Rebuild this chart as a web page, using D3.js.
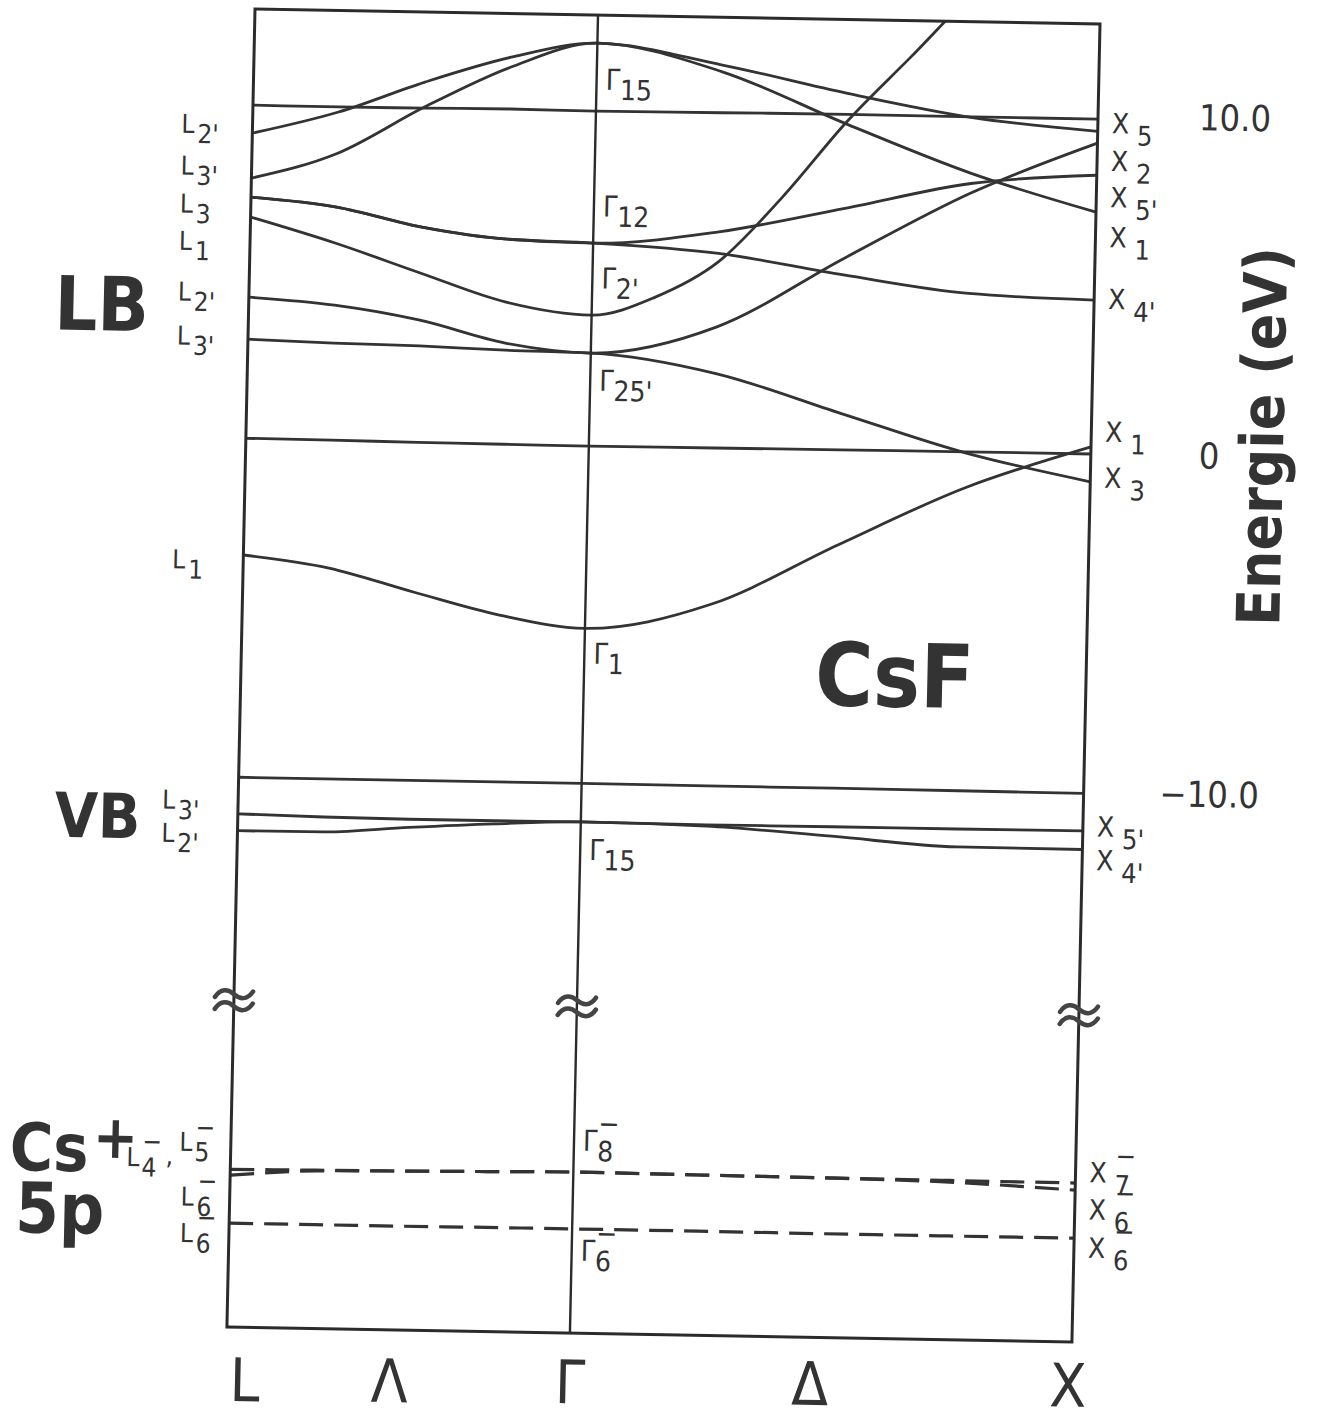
<!DOCTYPE html>
<html>
<head>
<meta charset="utf-8">
<script src="https://cdn.jsdelivr.net/npm/d3@7"></script>
<style>
  body { margin: 0; background: #fff; }
  text { font-family: "DejaVu Sans Condensed", "DejaVu Sans", sans-serif; fill: #333; }
</style>
</head>
<body>
<div id="chart"></div>
<script>

// k path: L = 0, Gamma = 1, X = 2
var kLG = [0, 0.25, 0.5, 0.75, 1];
var kGX = [1, 1.25, 1.5, 1.75, 2];
var kSteep = [1, 1.125, 1.25, 1.375, 1.5, 1.625, 1.75, 2];

// conduction bands (eV), L -> Gamma, paired by index with condGX
var condLG = [
  [9.86, 9.85, 9.86, 9.88, 9.86],
  [9.03, 9.70, 10.63, 11.41, 11.87],
  [7.70, 8.48, 9.89, 11.12, 11.87],
  [7.14, 6.89, 6.34, 6.03, 5.96],
  [7.14, 6.89, 6.34, 6.03, 5.96],
  [6.55, 5.82, 4.98, 4.17, 3.83],
  [4.18, 3.99, 3.59, 2.96, 2.71],
  [2.94, 2.87, 2.83, 2.75, 2.71],
  [0.01, 0.00, -0.02, -0.03, -0.04],
  [-3.44, -3.78, -4.45, -5.08, -5.43]
];
// conduction bands (eV), Gamma -> X
var condGX = [
  [9.86, 9.88, 9.90, 9.89, 9.89],
  [11.87, 11.29, 10.52, 9.87, 9.53],
  [11.87, 11.09, 9.61, 8.22, 7.14],
  [5.96, 6.36, 7.12, 7.92, 8.23],
  [5.96, 5.72, 5.15, 4.67, 4.54],
  [3.83, 4.39, 5.47, 7.42, 9.68, 11.63, 13.6, 16.5],
  [2.71, 3.55, 5.64, 7.64, 9.18],
  [2.71, 2.17, 1.06, -0.04, -0.83],
  [-0.04, -0.03, -0.02, -0.01, -0.01],
  [-5.43, -4.65, -2.83, -1.08, 0.20]
];

// valence bands (F 2p)
var valLG = [
  [-10.01, -10.01, -10.01, -10.01, -10.01],
  [-11.09, -11.14, -11.16, -11.16, -11.15],
  [-11.59, -11.58, -11.40, -11.25, -11.15]
];
var valGX = [
  [-10.01, -10.02, -10.02, -10.03, -10.04],
  [-11.15, -11.17, -11.16, -11.16, -11.15],
  [-11.15, -11.21, -11.44, -11.69, -11.70]
];

// Cs+ 5p core levels (dashed)
var coreLG = [
  [-21.60, -21.58, -21.56, -21.53, -21.50],
  [-21.77, -21.60, -21.56, -21.53, -21.50],
  [-23.19, -23.19, -23.19, -23.18, -23.18]
];
var coreGX = [
  [-21.50, -21.52, -21.54, -21.55, -21.56],
  [-21.50, -21.52, -21.54, -21.60, -21.77],
  [-23.18, -23.18, -23.19, -23.19, -23.19]
];

// labels at the symmetry points: [subscript, superscript, energy of label]
var lLabels = [["2'", "", 9.28], ["3'", "", 8.05], ["3", "", 6.92], ["1", "", 5.82],
               ["2'", "", 4.32], ["3'", "", 3.02], ["1", "", -3.59],
               ["3'", "", -10.70], ["2'", "", -11.68],
               ["6", "\u2212", -22.42], ["6", "\u2212", -23.50]];
var gLabels = [["15", "", 10.81], ["12", "", 7.06], ["2'", "", 4.93], ["25'", "", 1.91],
               ["1", "", -6.16], ["15", "", -11.96], ["8", "\u2212", -20.56], ["6", "\u2212", -23.81]];
var xLabels = [["5", "", 9.78], ["2", "", 8.66], ["5'", "", 7.59], ["1", "", 6.41], ["4'", "", 4.58],
               ["1", "", 0.66], ["3", "", -0.70], ["5'", "", -11.01], ["4'", "", -12.01],
               ["7", "\u2212", -21.23], ["6", "\u2212", -22.33], ["6", "\u2212", -23.46]];

var kNames = ["L", "\u039b", "\u0393", "\u0394", "X"];
var kTicks = [0, 0.5, 1, 1.5, 2];
var eTicks = [10, 0, -10];
var eTickText = ["10.0", "0", "\u221210.0"];
var breakE = -16.6;

var W = 845, H = 1318;

var svg = d3.select("#chart").append("svg")
  .attr("width", 1318)
  .attr("height", 1422);

// the scanned page is slightly skewed
var g = svg.append("g")
  .attr("transform", "matrix(1,0.0178,-0.0213,1,255,9)");

var x = d3.scaleLinear().domain([0, 1, 2]).range([0, 343, W]);
var y = d3.scaleLinear().domain([12.70, -26.26]).range([0, H]);

g.append("clipPath").attr("id", "frame")
  .append("rect").attr("width", W).attr("height", H);

var line = d3.line()
  .x(function(d) { return x(d[0]); })
  .y(function(d) { return y(d[1]); })
  .curve(d3.curveMonotoneX);

function band(eLG, eGX) {
  var pts = kLG.map(function(k, i) { return [k, eLG[i]]; });
  var k2 = eGX.length === kSteep.length ? kSteep : kGX;
  k2.forEach(function(k, i) { if (i > 0) pts.push([k, eGX[i]]); });
  return pts;
}

var bands = g.append("g").attr("clip-path", "url(#frame)");

bands.selectAll(".cb")
  .data(condLG.map(function(d, i) { return band(d, condGX[i]); }))
  .enter().append("path")
  .attr("class", "cb")
  .attr("d", line)
  .style("fill", "none").style("stroke", "#333").style("stroke-width", 2.8);

bands.selectAll(".vb")
  .data(valLG.map(function(d, i) { return band(d, valGX[i]); }))
  .enter().append("path")
  .attr("class", "vb")
  .attr("d", line)
  .style("fill", "none").style("stroke", "#333").style("stroke-width", 2.8);

bands.selectAll(".core")
  .data(coreLG.map(function(d, i) { return band(d, coreGX[i]); }))
  .enter().append("path")
  .attr("class", "core")
  .attr("d", line)
  .style("fill", "none").style("stroke", "#333").style("stroke-width", 3.2)
  .style("stroke-dasharray", "24,11");

// frame and Gamma line
g.append("rect")
  .attr("width", W).attr("height", H)
  .style("fill", "none").style("stroke", "#2b2b2b").style("stroke-width", 3);
g.append("line")
  .attr("x1", x(1)).attr("x2", x(1)).attr("y1", 0).attr("y2", H)
  .style("stroke", "#2b2b2b").style("stroke-width", 2.4);

// axis break marks
[0, 1, 2].forEach(function(k) {
  [-6, 6].forEach(function(off) {
    g.append("path")
      .attr("transform", "translate(" + x(k) + "," + (y(breakE) + off) + ")")
      .attr("d", "M-19,3 C-13,-6 -6,-5 0,0 S13,6 19,-3")
      .style("fill", "none").style("stroke", "#444").style("stroke-width", 4.5)
      .style("stroke-linecap", "round");
  });
});

// symmetry point labels
function symLabel(u, e, main, sub, sup, size, subSize, subDx, subDy) {
  var t = g.append("text")
    .attr("x", u)
    .attr("y", y(e) + size * 0.36)
    .style("font-size", size + "px");
  t.append("tspan").text(main);
  t.append("tspan")
    .attr("dx", subDx).attr("dy", subDy)
    .style("font-size", subSize + "px")
    .text(sub);
  if (sup) {
    t.append("tspan")
      .attr("dx", -subSize * 0.55).attr("dy", -subDy - size * 0.62)
      .style("font-size", subSize + "px")
      .text(sup);
  }
  return t;
}

lLabels.forEach(function(d, i) {
  var u = i < 7 ? -71 : (i < 9 ? -76 : -49);
  symLabel(u, d[2], "L", d[0], d[1], 26, 26, 3, 10);
});
// the doubly labelled core level at L
var t45 = symLabel(-104, -21.28, "L", "4", "\u2212", 26, 26, 2, 10);
t45.append("tspan").attr("dx", 4).attr("dy", 14).text(",");
t45.append("tspan").attr("dx", 6).attr("dy", -14).text("L");
t45.append("tspan").attr("dx", 2).attr("dy", 10).text("5");
t45.append("tspan").attr("dx", -14).attr("dy", -25).text("\u2212");

gLabels.forEach(function(d) {
  symLabel(x(1) + 9, d[2], "\u0393", d[0], d[1], 29, 28, 0, 10);
});

xLabels.forEach(function(d) {
  symLabel(x(2) + 14, d[2], "X", d[0], d[1], 28, 27, 8, 12);
});

// energy axis labels
var tickU = [946, 953, 921];
eTicks.forEach(function(e, i) {
  g.append("text")
    .attr("x", tickU[i])
    .attr("y", y(e) + 13)
    .style("font-size", "36px")
    .text(eTickText[i]);
});

g.append("text")
  .attr("transform", "translate(1037," + y(0.60) + ") rotate(-90)")
  .style("font-size", "60px")
  .style("font-weight", "bold")
  .style("text-anchor", "middle")
  .text("Energie (eV)");

// k labels under the frame (kept level against the page skew)
var kShift = [19, -8, 1, -10, -3];
kTicks.forEach(function(k, i) {
  g.append("text")
    .attr("x", x(k) + kShift[i])
    .attr("y", H + 74 - x(k) * 0.011)
    .style("font-size", "60px")
    .style("text-anchor", "middle")
    .text(kNames[i]);
});

// region names
g.append("text").attr("x", -194).attr("y", 324)
  .style("font-size", "75px").style("font-weight", "bold").text("LB");
g.append("text").attr("x", -183).attr("y", 831)
  .style("font-size", "62px").style("font-weight", "bold").text("VB");
var cs = g.append("text").attr("x", -221).attr("y", 1165)
  .style("font-size", "66px").style("font-weight", "bold");
cs.append("tspan").text("Cs");
cs.append("tspan").attr("dx", 4).attr("dy", -14).style("font-size", "60px").text("+");
g.append("text").attr("x", -214).attr("y", 1227)
  .style("font-size", "70px").style("font-weight", "bold").text("5p");
g.append("text").attr("x", 574).attr("y", 686)
  .style("font-size", "88px").style("font-weight", "bold").text("CsF");

</script>
</body>
</html>
